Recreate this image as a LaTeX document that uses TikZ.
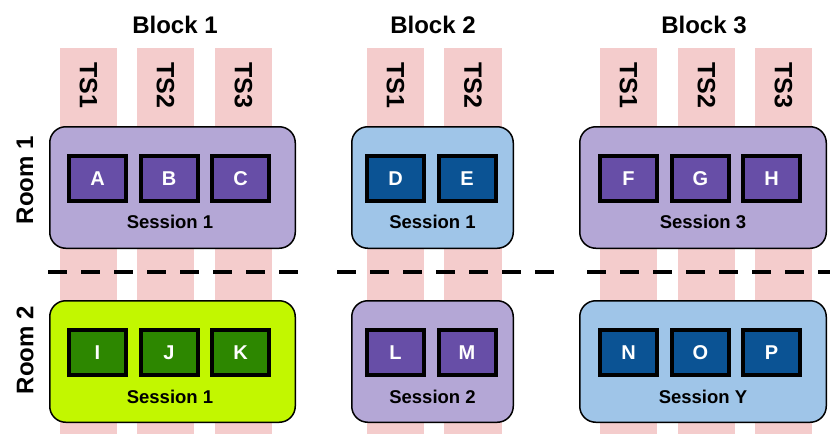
\documentclass[tikz,border=0pt]{standalone}
\usepackage{fontspec}
\setmainfont{Liberation Sans}
\definecolor{colpink}{HTML}{F4CCCC}
\definecolor{lpurple}{HTML}{B4A7D6}
\definecolor{dpurple}{HTML}{674EA7}
\definecolor{lblue}{HTML}{9FC5E8}
\definecolor{dblue}{HTML}{0B5394}
\definecolor{lime}{HTML}{C2F700}
\definecolor{dgreen}{HTML}{2D8700}
\tikzset{
  colbar/.style={fill=colpink, draw=none},
  tslabel/.style={font=\bfseries\fontsize{25}{25}\selectfont, rotate=-90, inner sep=0pt},
  blocklabel/.style={font=\bfseries\fontsize{24}{24}\selectfont, inner sep=0pt},
  roomlabel/.style={font=\bfseries\fontsize{24}{24}\selectfont, rotate=90, inner sep=0pt},
  roombox/.style={draw=black, line width=1.5pt, rounded corners=16pt, minimum height=121.5pt, inner sep=0pt},
  talk/.style={draw=black, line width=4pt, minimum width=57pt, minimum height=45pt, inner sep=0pt, text=white, font=\bfseries\fontsize{20}{20}\selectfont},
  sesslabel/.style={font=\bfseries\fontsize{18.5}{18.5}\selectfont, inner sep=0pt},
  divider/.style={line width=4pt, dash pattern=on 19pt off 14pt}
}
\begin{document}
\begin{tikzpicture}[x=1pt,y=-1pt]
\useasboundingbox (0,0) rectangle (830,434);
% columns
\foreach \xa/\xb in {60/117,137/194,215/272,367/424,444/502,600/657,678/735,755/812}{
  \fill[colbar] (\xa,48) rectangle (\xb,434);
}
\node[tslabel] (ts11) at (88.5,85) {TS1};
\node[tslabel] (ts12) at (165.5,85) {TS2};
\node[tslabel] (ts13) at (243.5,85) {TS3};
\node[tslabel] (ts21) at (395.5,85) {TS1};
\node[tslabel] (ts22) at (473,85) {TS2};
\node[tslabel] (ts31) at (628.5,85) {TS1};
\node[tslabel] (ts32) at (706.5,85) {TS2};
\node[tslabel] (ts33) at (783.5,85) {TS3};
% block labels
\node[blocklabel] (bl1) at (175,25) {Block 1};
\node[blocklabel] (bl2) at (433,25) {Block 2};
\node[blocklabel] (bl3) at (704,25) {Block 3};
% room labels
\node[roomlabel] (room1) at (25,180) {Room 1};
\node[roomlabel] (room2) at (25,350) {Room 2};
% dashed dividers
\coordinate (d1a) at (48,272); \coordinate (d1b) at (302,272);
\coordinate (d2a) at (337,272); \coordinate (d2b) at (557,272);
\coordinate (d3a) at (587,272); \coordinate (d3b) at (830,272);
\draw[divider] (d1a) -- (d1b);
\draw[divider] (d2a) -- (d2b);
\draw[divider] (d3a) -- (d3b);
% room boxes
\node[roombox, fill=lpurple, minimum width=245.5pt] (r11) at (172.5,187.5) {};
\node[roombox, fill=lime, minimum width=245.5pt] (r21) at (172.5,361.5) {};
\node[roombox, fill=lblue, minimum width=161.5pt] (r12) at (432.5,187.5) {};
\node[roombox, fill=lpurple, minimum width=161.5pt] (r22) at (432.5,361.5) {};
\node[roombox, fill=lpurple, minimum width=246.5pt] (r13) at (703,187.5) {};
\node[roombox, fill=lblue, minimum width=246.5pt] (r23) at (703,361.5) {};
% talks
\node[talk, fill=dpurple] (A) at (97.5,178.5) {A};
\node[talk, fill=dpurple] (B) at (169,178.5) {B};
\node[talk, fill=dpurple] (C) at (240.5,178.5) {C};
\node[talk, fill=dgreen] (I) at (97.5,352.5) {I};
\node[talk, fill=dgreen] (J) at (169,352.5) {J};
\node[talk, fill=dgreen] (K) at (240.5,352.5) {K};
\node[talk, fill=dblue] (D) at (395.5,178.5) {D};
\node[talk, fill=dblue] (E) at (467,178.5) {E};
\node[talk, fill=dpurple] (L) at (395.5,352.5) {L};
\node[talk, fill=dpurple] (M) at (467,352.5) {M};
\node[talk, fill=dpurple] (F) at (628.5,178.5) {F};
\node[talk, fill=dpurple] (G) at (700.5,178.5) {G};
\node[talk, fill=dpurple] (H) at (771.5,178.5) {H};
\node[talk, fill=dblue] (N) at (628.5,352.5) {N};
\node[talk, fill=dblue] (O) at (700.5,352.5) {O};
\node[talk, fill=dblue] (P) at (771.5,352.5) {P};
% session labels
\node[sesslabel] (s11) at (170,222) {Session 1};
\node[sesslabel] (s21) at (170,397) {Session 1};
\node[sesslabel] (s12) at (432.5,222) {Session 1};
\node[sesslabel] (s22) at (432.5,397) {Session 2};
\node[sesslabel] (s13) at (703,222) {Session 3};
\node[sesslabel] (s23) at (703,397) {Session Y};
\end{tikzpicture}
\end{document}
